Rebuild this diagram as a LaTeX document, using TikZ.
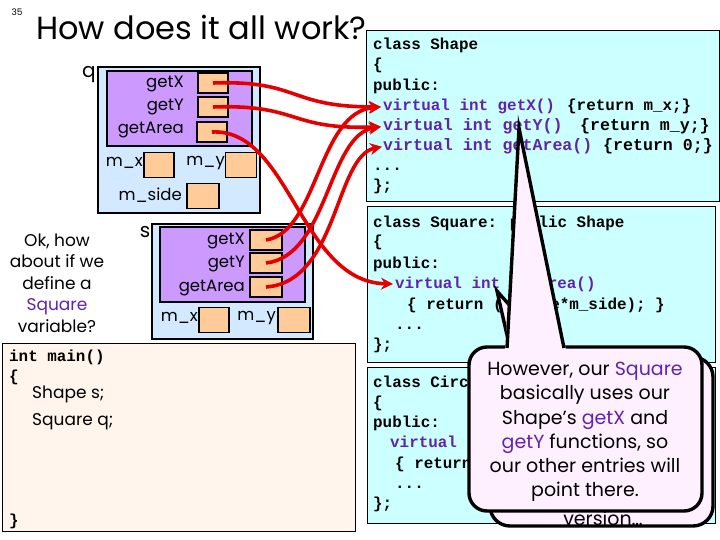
\documentclass[tikz,border=0pt]{standalone}
\usepackage{fontspec}
\setmainfont{Poppins}
\newfontfamily\codefont{Liberation Mono}
\usetikzlibrary{arrows.meta}
\definecolor{cyanbox}{RGB}{204,255,255}
\definecolor{objblue}{RGB}{210,233,255}
\definecolor{vtpurple}{RGB}{204,153,255}
\definecolor{slotorange}{RGB}{255,204,153}
\definecolor{mainbg}{RGB}{255,245,236}
\definecolor{kwpurple}{RGB}{96,36,170}
\definecolor{ptrred}{RGB}{228,0,0}
\definecolor{bubblefill}{RGB}{255,240,255}
\begin{document}
\begin{tikzpicture}[x=1pt,y=-1pt,
  code/.style={font=\codefont\bfseries\fontsize{15.9}{18}\selectfont, anchor=base west, inner sep=0pt},
  codewide/.style={code, font=\codefont\bfseries\fontsize{16.6}{18}\selectfont},
  kw/.style={code, text=kwpurple},
  kwwide/.style={codewide, text=kwpurple},
  codebox/.style={draw=black, line width=1pt, fill=cyanbox},
  objbox/.style={draw=black, line width=1.6pt, fill=objblue},
  vtbox/.style={draw=black, line width=1.6pt, fill=vtpurple},
  slot/.style={draw=black, line width=1.4pt, fill=slotorange, minimum width=30pt, minimum height=20pt, inner sep=0pt},
  lbl/.style={font=\fontsize{16.5}{18}\selectfont, inner sep=0pt},
  side/.style={font=\fontsize{17}{21.5}\selectfont, inner sep=0pt, align=center},
  ptr/.style={draw=ptrred, line width=3.6pt, -{Stealth[length=12pt,width=12pt]}},
  bubble/.style={draw=black, line width=3.4pt, fill=bubblefill},
  bubtext/.style={font=\fontsize{19}{24.2}\selectfont, inner sep=0pt, align=center}
]
\useasboundingbox (0,0) rectangle (720,540);
\fill[white] (0,0) rectangle (720,540);

% title
\node[font=\fontsize{9}{10}\selectfont, inner sep=0pt] (pageno) at (17,12) {35};
\node[font=\fontsize{32}{36}\selectfont, anchor=base west, inner sep=0pt] (title) at (36,40) {How does it all work?};

% ---------- code boxes ----------
\draw[codebox] (366,31) rectangle (719,202);
\node[code] (sh1) at (373,50) {class Shape};
\node[code] (sh2) at (373,70) {\{};
\node[code] (sh3) at (373,91) {public:};
\node[kw] (shx) at (383,111) {virtual int getX()};
\node[code] (shxb) at (567,111) {\{return m\_x;\}};
\node[kwwide] (shy) at (383,131) {virtual int getY()};
\node[codewide] (shyb) at (580,131) {\{return m\_y;\}};
\node[kwwide] (sha) at (383,151) {virtual int getArea()};
\node[codewide] (shab) at (603,151) {\{return 0;\}};
\node[code] (sh7) at (373,171) {...};
\node[code] (sh8) at (373,191) {\};};

\draw[codebox] (367,207) rectangle (715,362);
\node[code] (sq1) at (373,227) {class Square: public Shape};
\node[code] (sq2) at (373,247) {\{};
\node[code] (sq3) at (373,268) {public:};
\node[kw] (sqa) at (395,288) {virtual int getArea()};
\node[code] (sq5) at (407,309) {\{ return (m\_side*m\_side); \}};
\node[code] (sq6) at (395,329) {...};
\node[code] (sq7) at (373,349) {\};};

\draw[codebox] (367,367) rectangle (715,523);
\node[code] (ci1) at (373,387) {class Circ};
\node[code] (ci2) at (373,407) {\{};
\node[code] (ci3) at (373,427) {public:};
\node[kw] (cia) at (390,447) {virtual};
\node[code] (ci5) at (395,468) {\{ return};
\node[code] (ci6) at (395,488) {...};
\node[code] (ci7) at (373,508) {\};};

% ---------- object q ----------
\draw[objbox] (98,67) rectangle (260,213);
\draw[vtbox] (107,71) rectangle (252,146);
\node[font=\fontsize{20}{22}\selectfont, inner sep=0pt] (qname) at (89,75) {q};
\node[slot] (qx) at (213,83) {};
\node[slot] (qy) at (213,107) {};
\node[slot] (qa) at (212,132) {};
\node[lbl, anchor=east] (qxl) at (184,84) {getX};
\node[lbl, anchor=east] (qyl) at (184,107) {getY};
\node[lbl, anchor=east] (qal) at (184,130) {getArea};
\node[lbl, anchor=east] (qmxl) at (143,163) {m\_x};
\node[slot, minimum height=25pt] (qmx) at (159,165) {};
\node[lbl, anchor=east] (qmyl) at (225,163) {m\_y};
\node[slot, minimum width=31pt, minimum height=25pt] (qmy) at (241,165) {};
\node[lbl, anchor=east] (qmsl) at (182,195) {m\_side};
\node[slot, minimum width=32pt, minimum height=25pt] (qms) at (203,196) {};

% ---------- object s ----------
\draw[objbox] (152,224) rectangle (313,339);
\draw[vtbox] (160,227) rectangle (305,302);
\node[font=\fontsize{20}{22}\selectfont, inner sep=0pt] (sname) at (145,232) {s};
\node[slot, minimum width=32pt] (sx) at (266,240) {};
\node[slot, minimum width=32pt] (sy) at (266,263) {};
\node[slot, minimum width=32pt] (sa) at (266,287) {};
\node[lbl, anchor=east] (sxl) at (245,241) {getX};
\node[lbl, anchor=east] (syl) at (245,264) {getY};
\node[lbl, anchor=east] (sal) at (245,288) {getArea};
\node[lbl, anchor=east] (smxl) at (198,318) {m\_x};
\node[slot, minimum height=25pt] (smx) at (214,320) {};
\node[lbl, anchor=east] (smyl) at (276,318) {m\_y};
\node[slot, minimum width=32pt, minimum height=25pt] (smy) at (294,320) {};

% ---------- side question ----------
\node[side] (ask) at (57,283) {Ok, how\\about if we\\define a\\\textcolor{kwpurple}{Square}\\variable?};

% ---------- main ----------
\draw[draw=black, line width=1pt, fill=mainbg] (2,343) rectangle (355,531);
\node[code] (m1) at (9,361) {int main()};
\node[code] (m2) at (9,381) {\{};
\node[lbl, anchor=west, font=\fontsize{17}{20}\selectfont] (m3) at (32,394) {Shape s;};
\node[lbl, anchor=west, font=\fontsize{17}{20}\selectfont] (m4) at (32,422) {Square q;};
\node[code] (m5) at (9,525) {\}};

% ---------- pointers ----------
\draw[ptr] (qx.center) .. controls (300,80) and (288,107) .. ([xshift=-2pt]shx.west);
\draw[ptr] (qy.center) .. controls (300,104) and (288,130) .. ([xshift=-2pt]shy.west);
\draw[ptr] (qa.center) .. controls (290,128) and (300,282) .. ([xshift=-2pt]sqa.west);
\draw[ptr] (sx.center) .. controls (318,232) and (318,112) .. ([xshift=-2pt]shx.west);
\draw[ptr] (sy.center) .. controls (328,256) and (328,135) .. ([xshift=-2pt]shy.west);
\draw[ptr] (sa.center) .. controls (338,282) and (335,156) .. ([xshift=-1pt]sha.west);

% ---------- back bubble ----------
\draw[bubble, rounded corners=20pt] (490,357) rectangle (713,526);
\fill[bubblefill] (510,360) -- (497,291) -- (557,360) -- cycle;
\draw[black, line width=3.4pt, line join=miter] (512,357) -- (497,291) -- (555,357);
\node[bubtext, anchor=base] (backtxt) at (603,525) {version…};

% ---------- front bubble ----------
\draw[bubble, rounded corners=18pt] (469,347) rectangle (702,511);
\fill[bubblefill] (505,350) -- (519,128) -- (566,350) -- cycle;
\draw[black, line width=3.4pt, line join=miter, miter limit=20] (507,348) -- (519,128) -- (564,348);
\node[bubtext] (bubtxt) at (585,432) {However, our \textcolor{kwpurple}{Square}\\basically uses our\\Shape’s \textcolor{kwpurple}{getX} and\\\textcolor{kwpurple}{getY} functions, so\\our other entries will\\point there.};
\end{tikzpicture}
\end{document}
